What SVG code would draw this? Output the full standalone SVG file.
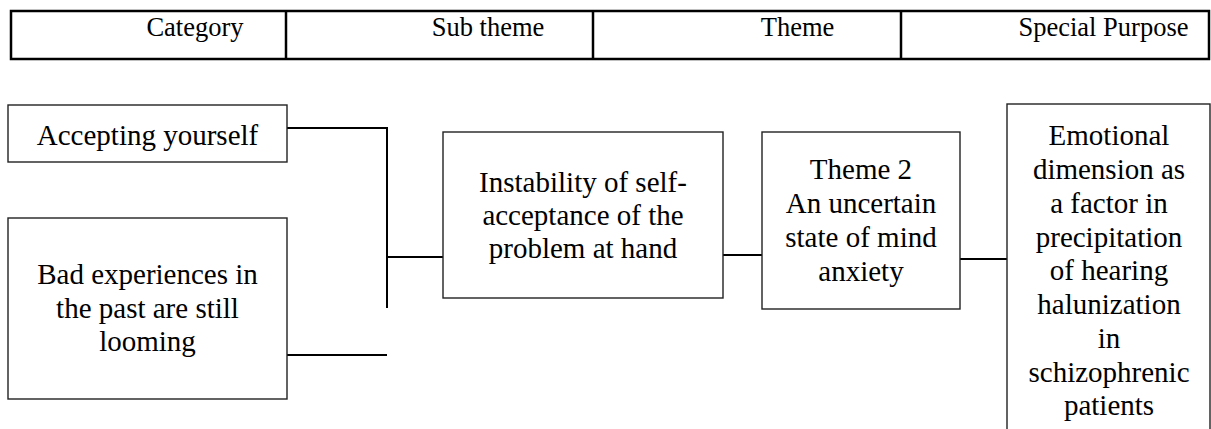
<svg xmlns="http://www.w3.org/2000/svg" width="1211" height="429" viewBox="0 0 1211 429">
<style>
text{font-family:"Liberation Serif","Times New Roman",serif;fill:#000;text-anchor:middle}
.hd{font-size:26.5px}
.bd{font-size:29px}
.box{fill:#fff;stroke:#222;stroke-width:1.4}
.hl{fill:none;stroke:#000;stroke-width:2.5}
.cn{fill:none;stroke:#000;stroke-width:2}
</style>
<rect width="1211" height="429" fill="#fff"/>
<g id="header">
<rect class="hl" x="11" y="11" width="1198" height="48"/>
<line class="hl" x1="286" y1="11" x2="286" y2="59"/>
<line class="hl" x1="593" y1="11" x2="593" y2="59"/>
<line class="hl" x1="901" y1="11" x2="901" y2="59"/>
<text class="hd" x="195" y="36">Category</text>
<text class="hd" x="488" y="36">Sub theme</text>
<text class="hd" x="797.5" y="36">Theme</text>
<text class="hd" x="1103.5" y="36">Special Purpose</text>
</g>
<g id="connectors">
<polyline class="cn" points="287,128 387,128 387,308"/>
<line class="cn" x1="387" y1="257" x2="443" y2="257"/>
<line class="cn" x1="287" y1="355" x2="387" y2="355"/>
<line class="cn" x1="723" y1="255" x2="762" y2="255"/>
<line class="cn" x1="960" y1="259" x2="1007" y2="259"/>
</g>
<g id="accepting">
<rect class="box" x="8" y="105" width="279" height="57"/>
<text class="bd" x="147.5" y="145">Accepting yourself</text>
</g>
<g id="bad-experiences">
<rect class="box" x="8" y="218" width="279" height="181"/>
<text class="bd" x="147.5" y="284">Bad experiences in</text>
<text class="bd" x="147.5" y="318">the past are still</text>
<text class="bd" x="147.5" y="351">looming</text>
</g>
<g id="instability">
<rect class="box" x="443" y="132" width="280" height="166"/>
<text class="bd" x="583" y="192">Instability of self-</text>
<text class="bd" x="583" y="225">acceptance of the</text>
<text class="bd" x="583" y="258">problem at hand</text>
</g>
<g id="theme2">
<rect class="box" x="762" y="132" width="198" height="177"/>
<text class="bd" x="861" y="179">Theme 2</text>
<text class="bd" x="861" y="213">An uncertain</text>
<text class="bd" x="861" y="247">state of mind</text>
<text class="bd" x="861" y="281">anxiety</text>
</g>
<g id="special-purpose">
<rect class="box" x="1007" y="104" width="203" height="340"/>
<text class="bd" x="1109" y="145">Emotional</text>
<text class="bd" x="1109" y="179">dimension as</text>
<text class="bd" x="1109" y="213">a factor in</text>
<text class="bd" x="1109" y="247">precipitation</text>
<text class="bd" x="1109" y="280">of hearing</text>
<text class="bd" x="1109" y="314">halunization</text>
<text class="bd" x="1109" y="348">in</text>
<text class="bd" x="1109" y="382">schizophrenic</text>
<text class="bd" x="1109" y="415">patients</text>
</g>
</svg>
